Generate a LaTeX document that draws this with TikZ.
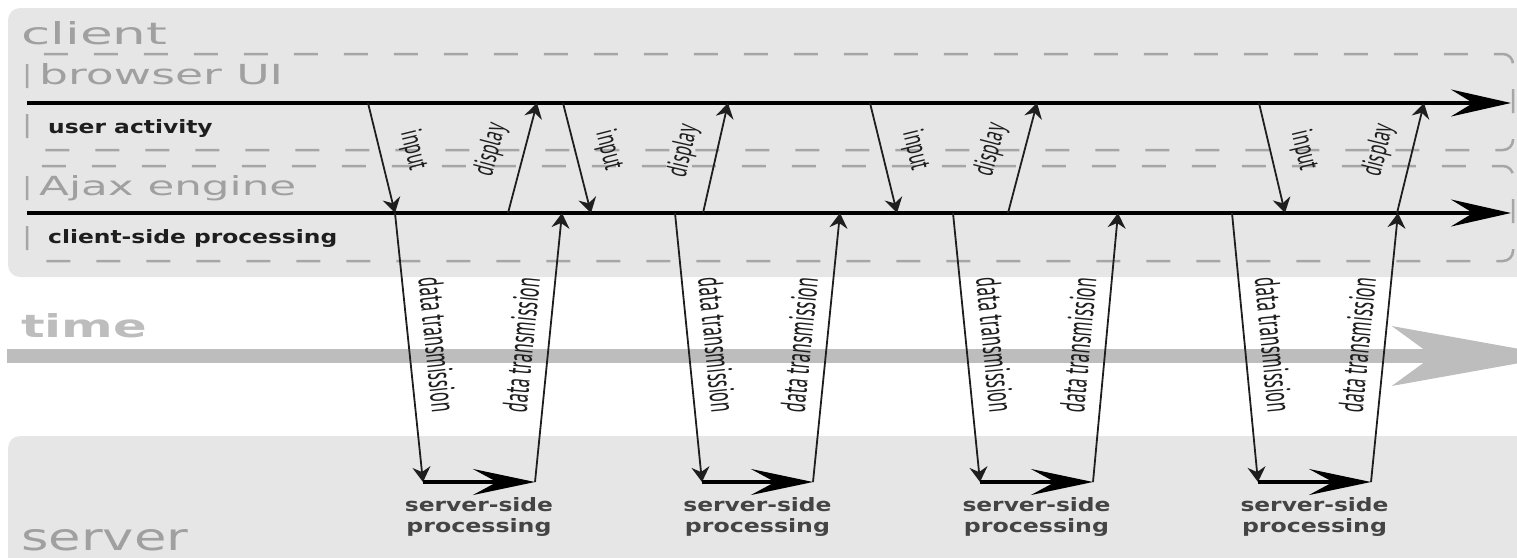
\documentclass[tikz,border=0pt]{standalone}
\usepackage{fontspec}
\usepackage{graphicx}
\setmainfont{DejaVu Sans}
\newfontfamily\lblfont{PT Sans}
\usetikzlibrary{arrows.meta,positioning}
\definecolor{boxgrey}{RGB}{230,230,230}
\definecolor{dashgrey}{RGB}{166,166,166}
\definecolor{titlegrey}{RGB}{160,160,160}
\definecolor{timegrey}{RGB}{189,189,189}
\definecolor{inkgrey}{RGB}{30,30,30}
\definecolor{srvgrey}{RGB}{68,68,68}
\newcommand{\fitbox}[3]{\resizebox{#1pt}{#2pt}{#3}}

\begin{document}
\begin{tikzpicture}[x=1pt,y=-1pt,
  tier/.style={fill=boxgrey,rounded corners=12pt},
  lane/.style={draw=dashgrey,line width=2.5pt,dash pattern=on 24pt off 26pt,rounded corners=10pt},
  title/.style={anchor=base west,inner sep=0pt,text=titlegrey},
  act/.style={anchor=base west,inner sep=0pt,font=\fontsize{18.4}{20}\selectfont\bfseries,text=inkgrey},
  srv/.style={anchor=base,inner sep=0pt,font=\bfseries,text=srvgrey},
  timeline/.style={line width=4pt,-{Stealth[length=60pt,width=27pt,inset=22pt]}},
  clock/.style={line width=14pt,timegrey,-{Stealth[length=166pt,width=59pt,inset=40pt]}},
  flow/.style={inkgrey,line width=1.8pt,-{Stealth[length=15pt,width=18pt,inset=5pt]}},
  work/.style={line width=4.5pt,-{Stealth[length=62pt,width=26pt,inset=24pt]}},
  tag/.style={midway,sloped,inner sep=0pt,font=\lblfont,text=inkgrey}]

\useasboundingbox (0,0) rectangle (1517,557);
\clip (0,0) rectangle (1517,557);

\fill[tier] (8,8) rectangle (1540,277);
\fill[tier] (8,436) rectangle (1540,600);
\draw[lane] (27,54) rectangle (1513,150);
\draw[lane] (27,166) rectangle (1513,261);

\node[title] (client) at (21,44) {\fitbox{146}{23}{client}};
\node[title] (browser) at (39,84) {\fitbox{244}{21}{browser UI}};
\node[title] (engine) at (39,195) {\fitbox{257}{20}{Ajax engine}};
\node[title,text=timegrey] (time) at (21,337) {\fitbox{126}{24}{\bfseries time}};
\node[title] (server) at (21,550) {\fitbox{167}{21}{server}};
\node[act] (user) at (48,133) {\scalebox{1.27}[1]{user activity}};
\node[act] (proc) at (48,243) {\scalebox{1.27}[1]{client-side processing}};

\coordinate (t0) at (7,356); \coordinate (t1) at (1559,356);
\draw[clock] (t0)--(t1);

\coordinate (ui0) at (27,103); \coordinate (ui1) at (1511,103);
\coordinate (ae0) at (27,213); \coordinate (ae1) at (1511,213);
\draw[timeline] (ui0)--(ui1); \draw[timeline] (ae0)--(ae1);

\foreach \n/\ia/\ib/\da/\db/\ta/\sa/\sb/\ua in
  {1/368/395/508/537/395/423/535/562, 2/563/591/703/728/675/702/813/840,
   3/870/897/1008/1037/953/980/1093/1118, 4/1259/1285/1397/1424/1232/1258/1371/1398}{
  \coordinate (req\n) at (\ia,103); \coordinate (got\n) at (\ib,213);
  \coordinate (shw\n) at (\da,213); \coordinate (seen\n) at (\db,103);
  \coordinate (snd\n) at (\ta,213); \coordinate (srvA\n) at (\sa,482);
  \coordinate (srvB\n) at (\sb,482); \coordinate (rcv\n) at (\ua,213);
  \draw[flow] (req\n)--(got\n) node[tag,above=18pt] {\fitbox{40}{21}{input}};
  \draw[flow] (shw\n)--(seen\n) node[tag,above=18pt] {\fitbox{53}{21}{display}};
  \draw[flow] (snd\n)--(srvA\n) node[tag,above=15pt] {\fitbox{135}{25}{data transmission}};
  \draw[work] (srvA\n)--(srvB\n) node[srv,midway,yshift=-29pt]
    {\begin{tabular}[t]{@{}c@{}}\fitbox{148}{14}{server-side}\\[4pt]\fitbox{145}{14}{processing}\end{tabular}};
  \draw[flow] (srvB\n)--(rcv\n) node[tag,above=14pt] {\fitbox{135}{25}{data transmission}};
}
\end{tikzpicture}
\end{document}
